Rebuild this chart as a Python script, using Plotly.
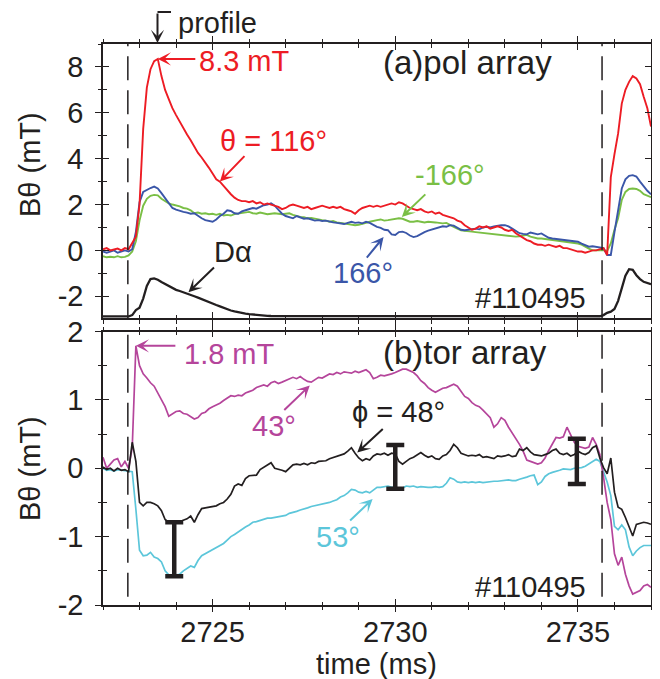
import plotly.graph_objects as go

# ---------------- data ----------------
TIME_START = 2722.0
TIME_STEP = 0.1
time_ms = [round(TIME_START + TIME_STEP * i, 1) for i in range(151)]

# (a) poloidal array, B_theta (mT)
pol_116 = [
    0.05, 0.1, 0.0, 0.05, 0.08, 0.0, 0.1, 0.05, 0.3, 0.6,
    2.0, 5.3, 7.1, 7.9, 8.25, 8.35, 7.6, 7.0, 6.6, 6.2,
    5.9, 5.6, 5.3, 5.05, 4.8, 4.5, 4.25, 4.05, 3.85, 3.6,
    3.35, 3.1, 3.0, 2.8, 2.6, 2.45, 2.3, 2.2, 2.15, 2.15,
    2.1, 2.15, 2.05, 2.1, 2.0, 2.05, 2.0, 1.95, 1.9, 1.8,
    1.85, 1.95, 2.0, 1.95, 1.9, 1.85, 1.9, 1.8, 1.85, 1.9,
    1.95, 1.9, 1.85, 1.9, 1.85, 1.9, 1.8, 1.75, 1.7, 1.6,
    1.75, 1.85, 1.9, 1.95, 1.9, 1.95, 1.9, 1.95, 2.0, 2.05,
    2.0, 2.1, 2.05, 1.95, 1.85, 1.8, 1.75, 1.8, 1.7, 1.65,
    1.7, 1.6, 1.65, 1.55, 1.5, 1.45, 1.4, 1.3, 1.25, 1.1,
    1.0, 0.9, 0.95, 1.05, 1.0, 1.05, 0.95, 1.0, 1.05, 1.0,
    0.9, 0.85, 0.9, 0.75, 0.65, 0.55, 0.45, 0.4, 0.3, 0.25,
    0.25, 0.2, 0.25, 0.2, 0.15, 0.2, 0.1, 0.1, 0.05, 0.0,
    -0.05, -0.05, -0.1, -0.05, 0.0, 0.0, 0.05, 0.1, -0.2, 3.2,
    4.2, 5.1, 6.4, 7.0, 7.35, 7.6, 7.5, 7.25, 6.7, 6.2,
    5.4,
]
pol_166 = [
    -0.05, -0.1, -0.05, 0.0, -0.1, -0.05, 0.0, -0.05, 0.05, 0.8,
    2.1, 2.55, 2.65, 2.72, 2.78, 2.7, 2.5, 2.3, 2.05, 1.85,
    1.78, 1.72, 1.68, 1.65, 1.6, 1.62, 1.5, 1.4, 1.32, 1.28,
    1.25, 1.35, 1.5, 1.6, 1.75, 1.72, 1.62, 1.6, 1.7, 1.75,
    1.8, 1.85, 1.82, 1.9, 1.97, 2.0, 2.05, 1.95, 1.76, 1.6,
    1.5, 1.45, 1.4, 1.5, 1.45, 1.38, 1.4, 1.35, 1.3, 1.32,
    1.28, 1.3, 1.25, 1.22, 1.2, 1.18, 1.15, 1.2, 1.25, 1.2,
    1.22, 1.18, 1.25, 1.2, 1.1, 1.03, 0.98, 0.9, 0.88, 0.7,
    0.67, 0.8, 0.82, 0.76, 0.65, 0.58, 0.62, 0.72, 0.8, 0.86,
    0.9, 0.95, 1.0, 1.05, 1.03, 1.1, 1.08, 0.98, 0.9, 0.88,
    0.9, 0.92, 0.95, 0.92, 1.0, 1.03, 1.0, 1.05, 1.08, 1.1,
    1.1, 1.05, 0.95, 0.85, 0.75, 0.72, 0.7, 0.78, 0.74, 0.7,
    0.74, 0.65, 0.55, 0.52, 0.5, 0.48, 0.45, 0.45, 0.42, 0.4,
    0.38, 0.3, 0.22, 0.16, 0.18, 0.15, 0.12, 0.1, -0.2, -0.2,
    0.8, 1.7, 2.7, 3.1, 3.25, 3.28, 3.22, 3.0, 2.78, 2.6,
    2.45,
]
pol_m166 = [
    -0.25, -0.3, -0.28, -0.3, -0.25, -0.3, -0.28, -0.22, -0.05, 0.4,
    1.3, 1.95, 2.25, 2.38, 2.42, 2.4, 2.25, 2.15, 2.05, 2.0,
    1.97, 1.92, 1.85, 1.82, 1.75, 1.62, 1.65, 1.6, 1.62, 1.58,
    1.6, 1.55, 1.6, 1.52, 1.55, 1.52, 1.58, 1.6, 1.62, 1.65,
    1.68, 1.62, 1.6, 1.65, 1.6, 1.58, 1.6, 1.62, 1.6, 1.58,
    1.6, 1.62, 1.55, 1.5, 1.46, 1.45, 1.4, 1.42, 1.38, 1.35,
    1.32, 1.3, 1.25, 1.28, 1.22, 1.2, 1.18, 1.15, 1.12, 1.1,
    1.12, 1.15, 1.2, 1.25, 1.3, 1.32, 1.35, 1.3, 1.32, 1.35,
    1.38, 1.4, 1.38, 1.3, 1.25, 1.25, 1.28, 1.25, 1.22, 1.25,
    1.25, 1.22, 1.2, 1.18, 1.2, 1.1, 1.03, 0.95, 0.88, 0.85,
    0.82, 0.82, 0.8, 0.78, 0.76, 0.74, 0.72, 0.7, 0.68, 0.67,
    0.65, 0.62, 0.6, 0.6, 0.62, 0.65, 0.68, 0.6, 0.55, 0.52,
    0.52, 0.5, 0.48, 0.45, 0.45, 0.42, 0.4, 0.38, 0.35, 0.32,
    0.3, 0.25, 0.18, 0.08, 0.0, 0.0, 0.02, 0.0, -0.02, 0.3,
    0.9, 1.4, 2.2, 2.55, 2.68, 2.7, 2.68, 2.6, 2.45, 2.38,
    2.32,
]
d_alpha = [
    -2.88, -2.88, -2.88, -2.88, -2.88, -2.88, -2.88, -2.88, -2.82, -2.6,
    -2.5, -2.1, -1.55, -1.25, -1.22, -1.28, -1.38, -1.47, -1.55, -1.63,
    -1.72, -1.77, -1.82, -1.87, -1.93, -2.0, -2.06, -2.13, -2.2, -2.26,
    -2.32, -2.38, -2.44, -2.51, -2.56, -2.62, -2.66, -2.7, -2.73, -2.76,
    -2.78, -2.8, -2.82, -2.83, -2.84, -2.85, -2.86, -2.86, -2.87, -2.87,
    -2.87, -2.87, -2.87, -2.87, -2.87, -2.88, -2.88, -2.88, -2.88, -2.88,
    -2.88, -2.88, -2.88, -2.88, -2.88, -2.88, -2.88, -2.88, -2.88, -2.88,
    -2.88, -2.88, -2.88, -2.88, -2.88, -2.88, -2.88, -2.88, -2.88, -2.88,
    -2.88, -2.88, -2.88, -2.88, -2.88, -2.88, -2.88, -2.88, -2.88, -2.88,
    -2.88, -2.88, -2.88, -2.88, -2.88, -2.88, -2.88, -2.88, -2.88, -2.88,
    -2.88, -2.88, -2.88, -2.88, -2.88, -2.88, -2.88, -2.88, -2.88, -2.88,
    -2.88, -2.88, -2.88, -2.88, -2.88, -2.88, -2.88, -2.88, -2.88, -2.88,
    -2.88, -2.88, -2.88, -2.88, -2.88, -2.88, -2.88, -2.88, -2.88, -2.88,
    -2.88, -2.88, -2.88, -2.88, -2.88, -2.88, -2.87, -2.82, -2.72, -2.67,
    -2.55, -2.2, -1.6, -1.1, -0.82, -0.85, -1.08, -1.25, -1.37, -1.43,
    -1.47,
]

# (b) toroidal array, B_theta (mT)
tor_43 = [
    0.16, 0.0, 0.06, 0.12, 0.14, 0.02, 0.1, 0.0, 0.3, 1.79,
    1.5, 1.38, 1.32, 1.25, 1.2, 1.1, 0.98, 0.9, 0.76, 0.8,
    0.83, 0.84, 0.8, 0.79, 0.76, 0.72, 0.74, 0.8, 0.82, 0.87,
    0.9, 0.92, 0.95, 0.99, 1.02, 1.06, 1.05, 1.07, 1.06, 1.1,
    1.12, 1.14, 1.18, 1.2, 1.22, 1.2, 1.25, 1.27, 1.24, 1.26,
    1.28, 1.3, 1.33, 1.31, 1.34, 1.3, 1.27, 1.26, 1.3, 1.33,
    1.32, 1.35, 1.38, 1.37, 1.4, 1.38, 1.41, 1.4, 1.39, 1.42,
    1.4, 1.42, 1.44, 1.4, 1.31, 1.33, 1.36, 1.35, 1.36, 1.38,
    1.4, 1.43, 1.45, 1.45, 1.42, 1.4, 1.35, 1.28, 1.24, 1.18,
    1.14, 1.11, 1.14, 1.17, 1.18, 1.2, 1.23, 1.2, 1.12, 1.05,
    1.02, 0.96, 0.92, 0.9, 0.85, 0.8, 0.74, 0.6, 0.65, 0.74,
    0.7, 0.6, 0.52, 0.42, 0.35, 0.25, 0.12, 0.1, 0.08, 0.06,
    0.08, 0.15, 0.26, 0.35, 0.45, 0.44, 0.46, 0.6, 0.48, 0.38,
    0.32, 0.3, 0.29, 0.31, 0.45, 0.35, 0.2, -0.13, -0.5, -0.75,
    -1.25, -1.42, -1.3, -1.55, -1.72, -1.84, -1.82, -1.79, -1.72, -1.7,
    -1.74,
]
tor_48 = [
    0.02, -0.02, 0.0, -0.04, 0.0, -0.03, -0.02, -0.05, 0.38, 0.1,
    -0.5, -0.55, -0.5, -0.5, -0.52, -0.55, -0.62, -0.75, -0.79, -0.78,
    -0.8, -0.78, -0.75, -0.74, -0.7, -0.79, -0.68, -0.59, -0.58, -0.57,
    -0.55, -0.55, -0.52, -0.5, -0.45, -0.38, -0.26, -0.23, -0.25, -0.15,
    -0.11, -0.1, -0.1, -0.02, 0.01, 0.05, 0.08, 0.0, -0.01, -0.03,
    -0.05, 0.0, 0.05, 0.06, 0.05, 0.07, 0.05, 0.08, 0.07, 0.1,
    0.1, 0.11, 0.14, 0.16, 0.18, 0.2, 0.21, 0.25, 0.3, 0.22,
    0.15, 0.11, 0.14, 0.12, 0.18, 0.21, 0.2, 0.22, 0.19, 0.22,
    0.21, 0.1, 0.06, 0.1, 0.14, 0.16, 0.2, 0.23, 0.19, 0.16,
    0.18, 0.14, 0.13, 0.18, 0.2, 0.26, 0.35, 0.3, 0.22, 0.2,
    0.18, 0.19, 0.18, 0.2, 0.16, 0.17, 0.16, 0.14, 0.18, 0.17,
    0.18, 0.2, 0.17, 0.18, 0.28, 0.26, 0.3, 0.24, 0.2, 0.19,
    0.18, 0.2, 0.22, 0.26, 0.28, 0.22, 0.2, 0.22, 0.18, 0.2,
    0.25, 0.22, 0.2, 0.23, 0.3, 0.33, 0.15, 0.01, -0.08, 0.15,
    -0.35, -0.57, -0.6, -0.72, -0.85, -0.99, -0.82, -0.8, -0.79, -0.8,
    -0.82,
]
tor_53 = [
    0.0, -0.03, -0.02, -0.04, -0.02, -0.03, -0.03, -0.05, -0.05, -0.6,
    -1.2, -1.28, -1.27, -1.23, -1.3, -1.32, -1.37, -1.5, -1.56, -1.57,
    -1.56, -1.55, -1.5, -1.47, -1.43, -1.45, -1.35, -1.28, -1.25, -1.21,
    -1.18, -1.16, -1.13, -1.1, -1.05, -1.0, -0.97, -0.93, -0.9, -0.86,
    -0.83, -0.79, -0.78, -0.76, -0.74, -0.73, -0.73, -0.72, -0.72, -0.7,
    -0.69, -0.66, -0.65, -0.63, -0.61, -0.6, -0.58, -0.56, -0.55, -0.54,
    -0.52, -0.51, -0.5, -0.48, -0.46, -0.42, -0.4, -0.36, -0.31, -0.32,
    -0.35, -0.36, -0.34, -0.36, -0.32, -0.28, -0.28, -0.27, -0.26, -0.28,
    -0.28, -0.3, -0.29, -0.26, -0.27, -0.26, -0.28, -0.27, -0.28, -0.28,
    -0.28, -0.27, -0.28, -0.27, -0.22, -0.14, -0.16, -0.2, -0.21, -0.2,
    -0.21, -0.2, -0.21, -0.2, -0.21, -0.2, -0.2, -0.19, -0.19, -0.18,
    -0.18, -0.17, -0.18, -0.18, -0.16, -0.15, -0.13, -0.11, -0.1, -0.24,
    -0.2, -0.12, -0.08, -0.06, -0.05, -0.03, -0.01, -0.02, -0.02, 0.0,
    0.0, 0.01, 0.03, 0.06, 0.1, 0.13, 0.1, -0.05, -0.2, -0.4,
    -0.85, -0.9, -0.83, -0.9, -1.15, -1.28, -1.21, -1.16, -1.13, -1.13,
    -1.13,
]

# error bars on the toroidal panel
err_time = [2723.95, 2730.0, 2734.97]
err_low = [-1.58, -0.30, -0.23]
err_high = [-0.79, 0.34, 0.43]

# dashed time markers
marker_times = [2722.68, 2735.66]

# tick labels (plain hyphen minus, as in the original)
top_tick_vals = [-2, 0, 2, 4, 6, 8]
top_tick_text = ["-2", "0", "2", "4", "6", "8"]
bot_tick_vals = [-2, -1, 0, 1, 2]
bot_tick_text = ["-2", "-1", "0", "1", "2"]

# ---------------- style ----------------
FONT = "Liberation Sans, Arial, Helvetica, sans-serif"
INK = "#231f20"
RED = "#ed1c24"
BLUE = "#3a56a8"
GREEN = "#7abf45"
MAGENTA = "#b5459b"
CYAN = "#5cc6da"
FS = 29

PAGE_OFF = 8  # default page margin around the figure
W, H = 652, 671
PL, PR, PT, PB = 95, 9, 36, 74
PW, PH = W - PL - PR, H - PT - PB


def px2paper(px, py):
    """convert page pixel position to paper coordinates"""
    return (px - PAGE_OFF - PL) / PW, (PT + PH - (py - PAGE_OFF)) / PH


TOP_DOM = [px2paper(0, 318.3)[1], 1.0]
BOT_DOM = [0.0, px2paper(0, 331.5)[1]]

fig = go.Figure()

# top panel traces (x2, y)
fig.add_trace(go.Scatter(x=time_ms, y=d_alpha, mode="lines", xaxis="x2", yaxis="y",
                         line=dict(color=INK, width=2.3), showlegend=False))
fig.add_trace(go.Scatter(x=time_ms, y=pol_m166, mode="lines", xaxis="x2", yaxis="y",
                         line=dict(color=GREEN, width=1.9), showlegend=False))
fig.add_trace(go.Scatter(x=time_ms, y=pol_166, mode="lines", xaxis="x2", yaxis="y",
                         line=dict(color=BLUE, width=1.9), showlegend=False))
fig.add_trace(go.Scatter(x=time_ms, y=pol_116, mode="lines", xaxis="x2", yaxis="y",
                         line=dict(color=RED, width=1.9), showlegend=False))

# bottom panel traces (x, y2)
fig.add_trace(go.Scatter(x=time_ms, y=tor_53, mode="lines", xaxis="x", yaxis="y2",
                         line=dict(color=CYAN, width=1.7), showlegend=False))
fig.add_trace(go.Scatter(x=time_ms, y=tor_43, mode="lines", xaxis="x", yaxis="y2",
                         line=dict(color=MAGENTA, width=1.7), showlegend=False))
fig.add_trace(go.Scatter(x=time_ms, y=tor_48, mode="lines", xaxis="x", yaxis="y2",
                         line=dict(color=INK, width=1.7), showlegend=False))

err_mid = [(lo + hi) / 2 for lo, hi in zip(err_low, err_high)]
err_half = [(hi - lo) / 2 for lo, hi in zip(err_low, err_high)]
fig.add_trace(go.Scatter(x=err_time, y=err_mid, mode="markers", xaxis="x", yaxis="y2",
                         marker=dict(size=1, color="rgba(0,0,0,0)"),
                         error_y=dict(type="data", array=err_half, visible=True,
                                      color=INK, thickness=4.5, width=9),
                         showlegend=False))

# empty traces so the overlay (outside/inside tick) axes get drawn
for xa, ya in [("x3", "y2"), ("x4", "y"), ("x", "y4"), ("x2", "y3")]:
    fig.add_trace(go.Scatter(x=[], y=[], xaxis=xa, yaxis=ya, showlegend=False,
                             hoverinfo="skip"))

XR = [2722, 2737]
tick_common = dict(tickcolor=INK, tickwidth=1.3, showgrid=False, zeroline=False,
                   automargin=False)


def xax(ticks, anchor, labels, overlay=None, show_line=True):
    d = dict(range=XR, tick0=2725, dtick=5, ticks=ticks, ticklen=6,
             minor=dict(dtick=1, tick0=2722, ticks=ticks, ticklen=3.5,
                        tickcolor=INK, tickwidth=1.2),
             showline=show_line, linecolor=INK, linewidth=1.5, mirror="ticks",
             anchor=anchor, showticklabels=labels,
             tickfont=dict(family=FONT, size=FS, color=INK), **tick_common)
    if overlay:
        d["overlaying"] = overlay
    return d


def yax(rng, vals, texts, mdtick, ticks, anchor, domain=None, overlay=None,
        labels=True, show_line=True):
    d = dict(range=rng, tickmode="array", tickvals=vals, ticktext=texts,
             ticks=ticks, ticklen=6,
             minor=dict(dtick=mdtick, tick0=0, ticks=ticks, ticklen=3.5,
                        tickcolor=INK, tickwidth=1.2),
             showline=show_line, linecolor=INK, linewidth=1.5, mirror="ticks",
             anchor=anchor, showticklabels=labels, ticklabelstandoff=6,
             tickfont=dict(family=FONT, size=FS, color=INK), **tick_common)
    if domain:
        d["domain"] = domain
    if overlay:
        d["overlaying"] = overlay
    return d


YR_TOP = [-2.96, 9]
YR_BOT = [-2, 2]

fig.update_layout(
    template="none",
    width=W, height=H, autosize=False,
    margin=dict(l=PL, r=PR, t=PT, b=PB, pad=0),
    paper_bgcolor="white", plot_bgcolor="white",
    font=dict(family=FONT, size=FS, color=INK),
    # labelled time axis: inside half of the crossing ticks; overlay gives outside half
    xaxis=xax("inside", "y2", True),
    xaxis2=xax("outside", "y", False),
    xaxis3=xax("outside", "y2", False, overlay="x", show_line=False),
    xaxis4=xax("inside", "y", False, overlay="x2", show_line=False),
    yaxis=yax(YR_TOP, top_tick_vals, top_tick_text, 1, "outside", "x2", domain=TOP_DOM),
    yaxis2=yax(YR_BOT, bot_tick_vals, bot_tick_text, 0.5, "outside", "x", domain=BOT_DOM),
    yaxis3=yax(YR_TOP, top_tick_vals, top_tick_text, 1, "inside", "x2", overlay="y",
               labels=False, show_line=False),
    yaxis4=yax(YR_BOT, bot_tick_vals, bot_tick_text, 0.5, "inside", "x", overlay="y2",
               labels=False, show_line=False),
)
fig.update_layout(xaxis2=dict(matches="x"))

# dashed time markers
shapes = []
for t in marker_times:
    shapes.append(dict(type="line", xref="x2", yref="y domain", x0=t, x1=t, y0=0, y1=1,
                       line=dict(color=INK, width=1.5, dash="24px,10px")))
    shapes.append(dict(type="line", xref="x", yref="y2 domain", x0=t, x1=t, y0=0.03, y1=1,
                       line=dict(color=INK, width=1.5, dash="24px,10px")))
# hook of the "profile" arrow
hx0, hy = px2paper(157.5, 12)
hx1, _ = px2paper(171, 12)
shapes.append(dict(type="line", xref="paper", yref="paper", x0=hx0, x1=hx1, y0=hy, y1=hy,
                   line=dict(color=INK, width=2)))
fig.update_layout(shapes=shapes)

ann = []


def text(t, px, py, color=INK, size=FS, angle=0):
    x, y = px2paper(px, py)
    ann.append(dict(text=t, x=x, y=y, xref="paper", yref="paper", showarrow=False,
                    xanchor="center", yanchor="middle", textangle=angle,
                    font=dict(family=FONT, size=size, color=color)))


def arrow(xref, yref, x, y, ax, ay, color):
    ann.append(dict(text="", x=x, y=y, xref=xref, yref=yref, ax=ax, ay=ay,
                    showarrow=True, arrowhead=3, arrowsize=1.1, arrowwidth=2,
                    arrowcolor=color, standoff=0, startstandoff=0))


# panel (a)
text("profile", 217, 23)
text("8.3 mT", 244, 61, RED)
text("θ = 116°", 273, 141, RED)
text("(a)pol array", 467, 62, INK, 33)
text("-166°", 450, 175, GREEN)
text("166°", 363, 273, BLUE)
text("Dα", 233, 252)
text("#110495", 530, 298)
# panel (b)
text("(b)tor array", 465, 352, INK, 33)
text("1.8 mT", 229, 354, MAGENTA)
text("43°", 274, 426, MAGENTA)
text("ϕ = 48°", 398, 412)
text("53°", 338, 537, CYAN)
text("#110495", 530, 587)
# axis titles
text("Bθ (mT)", 30, 165, INK, FS, -90)
text("Bθ (mT)", 30, 469, INK, FS, -90)
text("time (ms)", 376, 664)

px_tip, py_tip = px2paper(157.5, 43)
ann.append(dict(text="", x=px_tip, y=py_tip, xref="paper", yref="paper", ax=0, ay=-31,
                showarrow=True, arrowhead=3, arrowsize=1.1, arrowwidth=2,
                arrowcolor=INK, standoff=0))
arrow("x2", "y", 2723.5, 8.35, 39, 0, RED)
arrow("x2", "y", 2725.2, 3.0, 26, -27, RED)
arrow("x2", "y", 2730.18, 1.46, 25, -24, GREEN)
arrow("x2", "y", 2729.68, 0.58, -18, 22, BLUE)
arrow("x2", "y", 2724.34, -1.82, 27, -26, INK)
arrow("x", "y2", 2722.9, 1.79, 41, 0, MAGENTA)
arrow("x", "y2", 2727.66, 1.21, -27, 26, MAGENTA)
arrow("x", "y2", 2728.96, 0.23, 27, -25, INK)
arrow("x", "y2", 2729.38, -0.45, -24, 23, CYAN)

fig.update_layout(annotations=ann)

fig.write_html("out.html")
